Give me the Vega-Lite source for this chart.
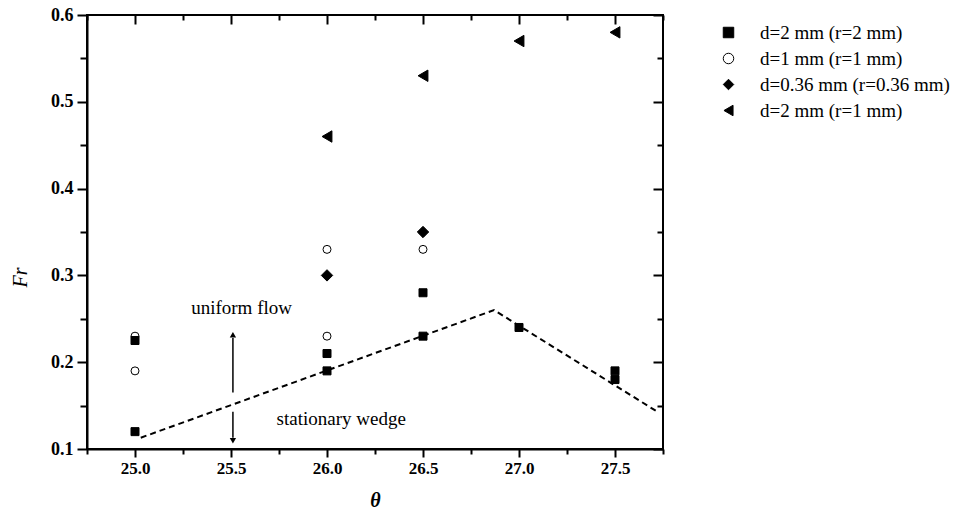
{
  "$schema": "https://vega.github.io/schema/vega-lite/v6.json",
  "width": 576,
  "height": 434,
  "autosize": "none",
  "padding": {"left": 87, "top": 15, "right": 304, "bottom": 63},
  "background": "white",
  "config": {
    "font": "Liberation Serif",
    "view": {"stroke": "black", "strokeWidth": 2},
    "axis": {"domainColor": "black", "domainWidth": 2, "tickColor": "black", "tickWidth": 2, "labelColor": "black", "titleColor": "black"}
  },
  "datasets": {
    "points": [
      {"theta": 25.0, "Fr": 0.23, "series": "d=1 mm (r=1 mm)"},
      {"theta": 25.0, "Fr": 0.19, "series": "d=1 mm (r=1 mm)"},
      {"theta": 26.0, "Fr": 0.23, "series": "d=1 mm (r=1 mm)"},
      {"theta": 26.0, "Fr": 0.33, "series": "d=1 mm (r=1 mm)"},
      {"theta": 26.5, "Fr": 0.33, "series": "d=1 mm (r=1 mm)"},
      {"theta": 25.0, "Fr": 0.12, "series": "d=2 mm (r=2 mm)"},
      {"theta": 25.0, "Fr": 0.225, "series": "d=2 mm (r=2 mm)"},
      {"theta": 26.0, "Fr": 0.19, "series": "d=2 mm (r=2 mm)"},
      {"theta": 26.0, "Fr": 0.21, "series": "d=2 mm (r=2 mm)"},
      {"theta": 26.5, "Fr": 0.23, "series": "d=2 mm (r=2 mm)"},
      {"theta": 26.5, "Fr": 0.28, "series": "d=2 mm (r=2 mm)"},
      {"theta": 27.0, "Fr": 0.24, "series": "d=2 mm (r=2 mm)"},
      {"theta": 27.5, "Fr": 0.18, "series": "d=2 mm (r=2 mm)"},
      {"theta": 27.5, "Fr": 0.19, "series": "d=2 mm (r=2 mm)"},
      {"theta": 26.0, "Fr": 0.30, "series": "d=0.36 mm (r=0.36 mm)"},
      {"theta": 26.5, "Fr": 0.35, "series": "d=0.36 mm (r=0.36 mm)"},
      {"theta": 26.0, "Fr": 0.46, "series": "d=2 mm (r=1 mm)"},
      {"theta": 26.5, "Fr": 0.53, "series": "d=2 mm (r=1 mm)"},
      {"theta": 27.0, "Fr": 0.57, "series": "d=2 mm (r=1 mm)"},
      {"theta": 27.5, "Fr": 0.58, "series": "d=2 mm (r=1 mm)"}
    ],
    "wedge": [
      {"theta": 25.03, "Fr": 0.113},
      {"theta": 26.87, "Fr": 0.26},
      {"theta": 27.72, "Fr": 0.143}
    ],
    "arrows": [
      {"theta": 25.51, "y1": 0.165, "y2": 0.228},
      {"theta": 25.51, "y1": 0.143, "y2": 0.113}
    ],
    "heads": [
      {"theta": 25.51, "Fr": 0.2315, "dir": "up"},
      {"theta": 25.51, "Fr": 0.1095, "dir": "down"}
    ],
    "labels": [
      {"theta": 25.555, "Fr": 0.262, "text": "uniform flow"},
      {"theta": 26.074, "Fr": 0.134, "text": "stationary wedge"}
    ]
  },
  "layer": [
    {
      "data": {"name": "points"},
      "mark": {"type": "point", "filled": true, "strokeWidth": 1, "opacity": 1},
      "encoding": {
        "x": {
          "field": "theta", "type": "quantitative",
          "scale": {"domain": [24.75, 27.75], "nice": false, "zero": false},
          "axis": {
            "orient": "bottom", "title": "θ", "titleFont": "Liberation Serif", "titleFontStyle": "italic", "titleFontWeight": "bold", "titleFontSize": 20,
            "titleY": 51, "titleBaseline": "middle",
            "values": [24.75, 25, 25.25, 25.5, 25.75, 26, 26.25, 26.5, 26.75, 27, 27.25, 27.5, 27.75],
            "labelExpr": "abs(datum.value*2-round(datum.value*2))<0.01 ? format(datum.value,'.1f') : ''",
            "labelFontSize": 17, "labelFontWeight": "bold", "labelPadding": 3,
            "tickSize": {"condition": {"test": "abs(datum.value*2-round(datum.value*2))<0.01", "value": 8}, "value": 5},
            "grid": true, "gridColor": "black", "gridWidth": 2, "gridOpacity": 1,
            "gridDash": {"condition": {"test": "abs(datum.value*2-round(datum.value*2))<0.01", "value": [9, 2000]}, "value": [5, 2000]}
          }
        },
        "y": {
          "field": "Fr", "type": "quantitative",
          "scale": {"domain": [0.1, 0.6], "nice": false, "zero": false},
          "axis": {
            "orient": "left", "title": "Fr", "titleFont": "Liberation Serif", "titleFontStyle": "italic", "titleFontWeight": "normal", "titleFontSize": 20,
            "titleX": -67, "titleY": 262, "titleBaseline": "middle", "titleAlign": "center", "titleAngle": -90,
            "values": [0.1, 0.15, 0.2, 0.25, 0.3, 0.35, 0.4, 0.45, 0.5, 0.55, 0.6],
            "labelExpr": "abs(datum.value*10-round(datum.value*10))<0.01 ? format(datum.value,'.1f') : ''",
            "labelFontSize": 18, "labelFontWeight": "bold", "labelPadding": 4,
            "tickSize": {"condition": {"test": "abs(datum.value*10-round(datum.value*10))<0.01", "value": 10}, "value": 7},
            "grid": true, "gridColor": "black", "gridWidth": 2, "gridOpacity": 1,
            "gridDash": {"condition": {"test": "abs(datum.value*10-round(datum.value*10))<0.01", "value": [0, 566, 10, 2000]}, "value": [0, 570, 6, 2000]}
          }
        },
        "shape": {
          "field": "series", "type": "nominal",
          "scale": {"domain": ["d=2 mm (r=2 mm)", "d=1 mm (r=1 mm)", "d=0.36 mm (r=0.36 mm)", "d=2 mm (r=1 mm)"], "range": ["square", "circle", "diamond", "triangle-left"]},
          "legend": {"title": null, "orient": "none", "legendX": 632, "legendY": 8, "padding": 0, "labelFont": "Liberation Serif", "labelFontSize": 19, "labelColor": "black", "symbolSize": 110, "symbolStrokeWidth": 1, "rowPadding": 6, "labelOffset": 22, "labelLimit": 400}
        },
        "fill": {
          "field": "series", "type": "nominal",
          "scale": {"domain": ["d=2 mm (r=2 mm)", "d=1 mm (r=1 mm)", "d=0.36 mm (r=0.36 mm)", "d=2 mm (r=1 mm)"], "range": ["black", "white", "black", "black"]},
          "legend": {"title": null, "orient": "none", "legendX": 632, "legendY": 8, "padding": 0, "labelFont": "Liberation Serif", "labelFontSize": 19, "labelColor": "black", "symbolSize": 110, "symbolStrokeWidth": 1, "rowPadding": 6, "labelOffset": 22, "labelLimit": 400}
        },
        "stroke": {
          "field": "series", "type": "nominal",
          "scale": {"domain": ["d=2 mm (r=2 mm)", "d=1 mm (r=1 mm)", "d=0.36 mm (r=0.36 mm)", "d=2 mm (r=1 mm)"], "range": ["black", "black", "black", "black"]},
          "legend": {"title": null, "orient": "none", "legendX": 632, "legendY": 8, "padding": 0, "labelFont": "Liberation Serif", "labelFontSize": 19, "labelColor": "black", "symbolSize": 110, "symbolStrokeWidth": 1, "rowPadding": 6, "labelOffset": 22, "labelLimit": 400}
        },
        "size": {
          "condition": {"test": "datum.series == 'd=0.36 mm (r=0.36 mm)' || datum.series == 'd=2 mm (r=1 mm)'", "value": 130},
          "value": 64
        }
      }
    },
    {
      "data": {"name": "wedge"},
      "mark": {"type": "line", "color": "black", "strokeWidth": 2, "strokeDash": [6, 4]},
      "encoding": {
        "x": {"field": "theta", "type": "quantitative"},
        "y": {"field": "Fr", "type": "quantitative"}
      }
    },
    {
      "data": {"name": "arrows"},
      "mark": {"type": "rule", "color": "black", "strokeWidth": 1.5},
      "encoding": {
        "x": {"field": "theta", "type": "quantitative"},
        "y": {"field": "y1", "type": "quantitative"},
        "y2": {"field": "y2"}
      }
    },
    {
      "data": {"name": "heads"},
      "transform": [{"filter": "datum.dir == 'up'"}],
      "mark": {"type": "point", "shape": "triangle-up", "filled": true, "color": "black", "opacity": 1, "size": 40},
      "encoding": {
        "x": {"field": "theta", "type": "quantitative"},
        "y": {"field": "Fr", "type": "quantitative"}
      }
    },
    {
      "data": {"name": "heads"},
      "transform": [{"filter": "datum.dir == 'down'"}],
      "mark": {"type": "point", "shape": "triangle-down", "filled": true, "color": "black", "opacity": 1, "size": 40},
      "encoding": {
        "x": {"field": "theta", "type": "quantitative"},
        "y": {"field": "Fr", "type": "quantitative"}
      }
    },
    {
      "data": {"name": "labels"},
      "mark": {"type": "text", "font": "Liberation Serif", "fontSize": 19, "color": "black", "align": "center", "baseline": "middle"},
      "encoding": {
        "x": {"field": "theta", "type": "quantitative"},
        "y": {"field": "Fr", "type": "quantitative"},
        "text": {"field": "text"}
      }
    }
  ]
}
